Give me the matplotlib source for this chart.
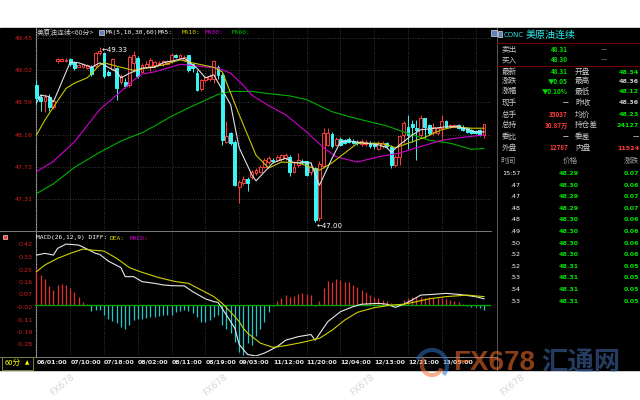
import matplotlib
matplotlib.use('Agg')
import matplotlib.pyplot as plt
from matplotlib.patches import Rectangle, Arc

plt.rcParams['font.family'] = ['DejaVu Sans', 'Noto Sans CJK SC']
CJK = ['Noto Sans CJK SC', 'DejaVu Sans']

# 美原油连续 60分钟K线 (开, 高, 低, 收)
opens = [48.83, 48.66, 48.61, 48.66, 48.53, 49.14, 49.15, 49.15, 49.17, 49.13,
         49.07, 49.06, 49.05, 49.07, 49.08, 49.25, 49.25, 49.00, 49.04, 49.05,
         48.87, 48.87, 48.83, 49.12, 49.19, 49.00, 49.07, 49.08, 49.09, 49.11,
         49.10, 49.11, 49.14, 49.22, 49.19, 49.16, 49.22, 49.10, 48.98, 48.77,
         48.89, 48.90, 48.90, 49.07, 48.96, 48.07, 48.18, 48.07, 47.47, 47.52,
         47.58, 47.60, 47.65, 47.67, 47.74, 47.80, 47.83, 47.83, 47.84, 47.85,
         47.87, 47.67, 47.76, 47.82, 47.81, 47.67, 47.72, 47.05, 47.75, 48.03,
         48.17, 48.03, 48.11, 48.09, 48.10, 48.08, 48.07, 48.04, 48.04, 48.06,
         48.05, 47.98, 48.01, 48.05, 48.00, 47.76, 47.87, 48.16, 48.27, 48.30,
         48.25, 48.16, 48.38, 48.29, 48.20, 48.18, 48.25, 48.35, 48.26, 48.27,
         48.29, 48.27, 48.25, 48.23, 48.21, 48.23, 48.16]
highs = [48.89, 48.70, 48.71, 48.70, 48.63, 49.18, 49.19, 49.18, 49.19, 49.15,
         49.11, 49.12, 49.11, 49.09, 49.26, 49.33, 49.27, 49.02, 49.19, 49.07,
         48.97, 48.92, 49.22, 49.28, 49.21, 49.12, 49.14, 49.18, 49.15, 49.14,
         49.16, 49.16, 49.25, 49.24, 49.24, 49.22, 49.23, 49.12, 49.02, 48.90,
         48.95, 48.97, 49.16, 49.09, 48.98, 48.34, 48.20, 48.09, 47.56, 47.61,
         47.60, 47.69, 47.72, 47.76, 47.85, 47.88, 47.85, 47.89, 47.91, 47.92,
         47.89, 47.81, 47.92, 47.84, 47.82, 47.80, 47.74, 47.82, 48.25, 48.25,
         48.20, 48.13, 48.13, 48.11, 48.13, 48.10, 48.09, 48.10, 48.09, 48.08,
         48.07, 48.08, 48.08, 48.07, 48.03, 47.89, 48.16, 48.34, 48.43, 48.36,
         48.36, 48.43, 48.39, 48.30, 48.32, 48.27, 48.43, 48.36, 48.31, 48.31,
         48.31, 48.29, 48.26, 48.24, 48.22, 48.24, 48.30]
lows = [48.57, 48.48, 48.47, 48.48, 48.50, 49.12, 49.14, 49.13, 49.08, 49.03,
        49.06, 49.05, 49.04, 48.95, 49.06, 49.23, 48.92, 48.94, 49.02, 48.63,
        48.84, 48.78, 48.80, 49.00, 48.92, 48.98, 49.05, 49.01, 49.07, 49.09,
        49.08, 49.10, 49.12, 49.18, 49.17, 49.15, 49.00, 49.00, 48.74, 48.74,
        48.87, 48.88, 48.85, 48.91, 48.03, 48.05, 48.03, 47.48, 47.25, 47.50,
        47.41, 47.58, 47.63, 47.65, 47.72, 47.78, 47.80, 47.81, 47.82, 47.83,
        47.61, 47.65, 47.74, 47.78, 47.61, 47.63, 47.00, 47.02, 47.72, 48.02,
        47.99, 48.01, 48.01, 48.04, 48.05, 48.04, 48.03, 48.02, 48.02, 47.99,
        47.98, 47.96, 47.99, 47.99, 47.72, 47.74, 47.76, 48.05, 47.98, 48.07,
        47.83, 48.12, 48.12, 48.16, 48.16, 48.16, 48.09, 48.25, 48.25, 48.26,
        48.24, 48.21, 48.19, 48.17, 48.17, 48.15, 48.12]
closes = [48.65, 48.61, 48.67, 48.53, 48.61, 49.17, 49.17, 49.16, 49.11, 49.05,
          49.09, 49.10, 49.09, 48.97, 49.25, 49.28, 48.94, 48.96, 49.17, 48.78,
          48.95, 48.81, 49.20, 49.22, 48.94, 49.09, 49.10, 49.16, 49.13, 49.12,
          49.14, 49.14, 49.22, 49.20, 49.22, 49.20, 49.02, 49.05, 48.76, 48.89,
          48.93, 48.95, 49.15, 48.96, 48.09, 48.14, 48.05, 47.50, 47.54, 47.58,
          47.52, 47.67, 47.70, 47.74, 47.83, 47.86, 47.82, 47.87, 47.89, 47.90,
          47.67, 47.74, 47.83, 47.80, 47.63, 47.74, 47.03, 47.78, 48.18, 48.18,
          48.01, 48.11, 48.03, 48.06, 48.07, 48.06, 48.05, 48.08, 48.07, 48.01,
          48.01, 48.06, 48.06, 48.01, 47.76, 47.87, 48.14, 48.32, 48.16, 48.27,
          48.23, 48.38, 48.27, 48.18, 48.27, 48.25, 48.35, 48.27, 48.29, 48.29,
          48.25, 48.23, 48.20, 48.18, 48.18, 48.16, 48.30]

# 均线读数 (K线序号, 价格)
ma5_x = [0, 1, 3, 4, 8, 10, 13, 15, 19, 20, 22, 25, 28, 30, 35, 38, 40, 42, 46, 48,
         51, 52, 55, 56, 59, 61, 65, 67, 70, 72, 74, 78, 81, 83, 84, 86, 89, 91, 93,
         97, 100, 104, 106]
ma5_y = [48.59, 48.69, 48.67, 48.60, 49.13, 49.12, 49.06, 49.12, 49.00, 48.92, 48.98,
         49.05, 49.06, 49.12, 49.18, 49.05, 48.92, 48.96, 48.56, 47.99, 47.63, 47.55,
         47.73, 47.79, 47.85, 47.79, 47.79, 47.49, 47.85, 48.07, 48.08, 48.05, 48.03,
         47.99, 47.93, 48.03, 48.16, 48.23, 48.24, 48.27, 48.27, 48.20, 48.20]
ma10_x = [0, 2, 4, 7, 9, 12, 15, 16, 20, 23, 26, 30, 34, 36, 42, 44, 48, 52, 55, 58,
          62, 67, 70, 73, 76, 81, 83, 85, 89, 92, 96, 99, 103, 106]
ma10_y = [48.16, 48.36, 48.53, 48.78, 48.85, 48.92, 49.09, 49.12, 49.06, 49.02, 49.05,
          49.09, 49.16, 49.13, 49.06, 49.00, 48.43, 47.89, 47.72, 47.80, 47.79, 47.69,
          47.79, 47.92, 48.05, 48.05, 48.03, 47.99, 48.07, 48.13, 48.23, 48.27, 48.25,
          48.25]
ma30_x = [0, 4, 9, 15, 19, 23, 25, 28, 34, 43, 46, 49, 51, 55, 59, 64, 68, 71, 76, 81,
          86, 90, 96, 101, 106]
ma30_y = [47.67, 47.81, 48.07, 48.50, 48.69, 48.89, 48.97, 49.00, 49.10, 49.05, 48.98,
          48.82, 48.69, 48.55, 48.43, 48.20, 47.99, 47.87, 47.80, 47.87, 47.92, 47.99,
          48.09, 48.13, 48.16]
ma60_x = [0, 4, 9, 15, 20, 25, 28, 32, 36, 43, 46, 51, 55, 60, 64, 70, 75, 83, 87, 93,
          98, 103, 106]
ma60_y = [47.38, 47.51, 47.73, 47.93, 48.08, 48.19, 48.28, 48.41, 48.52, 48.70, 48.74,
          48.74, 48.71, 48.68, 48.63, 48.47, 48.39, 48.28, 48.20, 48.09, 48.05, 47.97,
          47.98]

# MACD(26,12,9)
macd_hist = [0.255, 0.21, 0.178, 0.13, 0.10, 0.137, 0.146, 0.14, 0.113, 0.085,
             0.055, 0.02, 0.004, -0.045, -0.04, -0.04, -0.07, -0.10, -0.115, -0.13,
             -0.155, -0.17, -0.14, -0.11, -0.10, -0.10, -0.095, -0.09, -0.085, -0.08,
             -0.075, -0.07, -0.07, -0.055, -0.045, -0.04, -0.045, -0.06, -0.085, -0.12,
             -0.125, -0.11, -0.085, -0.074, -0.14, -0.17, -0.20, -0.26, -0.33, -0.35,
             -0.27, -0.28, -0.22, -0.17, -0.12, -0.055, -0.008, 0.024, 0.043, 0.066,
             0.055, 0.06, 0.071, 0.078, 0.071, 0.066, -0.01, 0.024, 0.113, 0.165,
             0.16, 0.178, 0.173, 0.16, 0.155, 0.14, 0.125, 0.10, 0.09, 0.066,
             0.055, 0.043, 0.032, 0.024, 0.008, -0.004, 0.004, 0.032, 0.048, 0.055,
             0.055, 0.055, 0.048, 0.055, 0.048, 0.043, 0.043, 0.038, 0.032, 0.024,
             0.015, 0.002, -0.008, -0.015, -0.02, -0.027, -0.04]
diff_x = [0, 2, 4, 5, 7, 10, 12, 14, 15, 17, 20, 21, 23, 25, 28, 30, 32, 35, 37, 40,
          42, 43, 45, 47, 48, 50, 52, 54, 57, 59, 62, 65, 66, 69, 72, 75, 77, 81, 83,
          85, 87, 89, 91, 94, 97, 100, 104, 106]
diff_y = [0.346, 0.358, 0.346, 0.393, 0.423, 0.416, 0.388, 0.358, 0.35, 0.304, 0.258,
          0.195, 0.195, 0.16, 0.148, 0.137, 0.132, 0.13, 0.09, 0.04, 0.02, 0.015,
          -0.074, -0.167, -0.28, -0.35, -0.36, -0.34, -0.295, -0.25, -0.225, -0.21,
          -0.25, -0.12, -0.05, -0.015, 0.002, 0.008, 0.002, -0.02, 0.002, 0.032, 0.066,
          0.071, 0.078, 0.071, 0.055, 0.04]
dea_x = [0, 2, 5, 8, 11, 13, 16, 19, 22, 25, 29, 33, 36, 39, 42, 44, 47, 48, 49, 50,
         53, 56, 59, 63, 67, 70, 73, 76, 80, 84, 87, 90, 93, 97, 102, 106]
dea_y = [0.23, 0.277, 0.323, 0.358, 0.388, 0.381, 0.374, 0.323, 0.258, 0.225, 0.188,
         0.16, 0.148, 0.102, 0.055, 0.008, -0.085, -0.12, -0.167, -0.20, -0.27, -0.30,
         -0.288, -0.265, -0.237, -0.18, -0.109, -0.055, -0.022, -0.004, 0.002, 0.02,
         0.04, 0.055, 0.066, 0.055]

date_labels = ['06/01:00', '07/10:00', '07/18:00', '08/02:00', '08/11:00', '08/19:00',
               '09/03:00', '11/12:00', '11/20:00', '12/04:00', '12/13:00', '12/21:00',
               '13/05:00', '']
price_ticks = [49.45, 49.022, 48.594, 48.166, 47.738, 47.31]
price_labels = ['49.45', '49.02', '48.59', '48.16', '47.73', '47.31']
macd_ticks = [0.42, 0.3325, 0.245, 0.1575, 0.07, -0.0175, -0.105, -0.1925, -0.28]
macd_labels = ['0.42', '0.33', '0.25', '0.16', '0.07', '-0.02', '-0.11', '-0.19', '-0.28']

# 右侧报价
quote_left = ['卖出', '买入', '最新', '涨跌', '涨幅', '现手', '总手', '总持', '委比', '外盘']
quote_left_val = ['48.31', '48.30', '48.31', '▼0.05', '▼0.10%', '—', '35037', '30.87万', '—', '12787']
quote_right = ['', '', '开盘', '最高', '最低', '昨收', '均价', '持仓差', '委差', '内盘']
quote_right_val = ['—', '—', '48.34', '48.36', '48.12', '48.36', '48.23', '24127', '—', '11524']
tick_time = ['15:57', '.47', '.47', '.48', '.48', '.49', '.50', '.52', '.52', '.53', '.54', '.53']
tick_price = ['48.29', '48.30', '48.29', '48.29', '48.30', '48.30', '48.30', '48.30',
              '48.31', '48.31', '48.31', '48.31']
tick_chg = ['0.07', '0.06', '0.07', '0.07', '0.06', '0.06', '0.06', '0.06',
            '0.05', '0.05', '0.05', '0.05']

RED = '#ff3c3c'
CYAN = '#3cf4f4'
GREEN = '#00e000'
GRAY = '#c8c8c8'
GRID = '#4a4a4a'


def box(x0, y0, x1, y1):
    return [x0 / 640, 1 - y1 / 400, (x1 - x0) / 640, (y1 - y0) / 400]


fig = plt.figure(figsize=(6.4, 4.0), dpi=100, facecolor='white')

# 背景层 (像素坐标)
bg = fig.add_axes([0, 0, 1, 1])
bg.set_xlim(0, 640)
bg.set_ylim(400, 0)
bg.axis('off')
bg.set_zorder(0)
bg.add_patch(Rectangle((0, 28), 640, 342, color='black'))
bg.plot([35.5, 35.5], [28, 357], color='#9a9a9a', lw=0.8)
bg.plot([0, 491], [231, 231], color='#7a7a7a', lw=0.7)
bg.plot([0, 497], [356.5, 356.5], color='#7a7a7a', lw=0.7)
bg.plot([497, 497], [28, 370], color='#5a5a5a', lw=0.7)

n = len(closes)
bars = list(range(n))
xlim = (-0.355, 107.65)

# 主图
ax = fig.add_axes(box(35, 28, 491, 231))
ax.set_zorder(1)
ax.set_facecolor('none')
ax.set_xlim(*xlim)
ax.set_ylim(46.883, 49.583)
for s in ax.spines.values():
    s.set_visible(False)
ax.set_yticks(price_ticks, price_labels)
ax.set_xticks(range(0, n, 8))
ax.tick_params(axis='y', length=0, pad=1.5, labelsize=4.6, labelcolor='#d42020')
ax.tick_params(axis='x', length=0, labelbottom=False)
ax.grid(color=GRID, ls=(0, (1, 2)), lw=0.6)

up = [c >= o for o, c in zip(opens, closes)]
edge = [RED if u else CYAN for u in up]
face = ['black' if u else CYAN for u in up]
ax.vlines(bars, lows, highs, colors=edge, lw=0.7, zorder=3)
bottoms = [min(o, c) for o, c in zip(opens, closes)]
heights = [max(abs(c - o), 0.008) for o, c in zip(opens, closes)]
ax.bar(bars, heights, bottom=bottoms, width=0.68, color=face, edgecolor=edge,
       linewidth=0.7, zorder=4)

ax.plot(ma60_x, ma60_y, color='#00b000', lw=0.8, zorder=5)
ax.plot(ma30_x, ma30_y, color='#d000d0', lw=0.8, zorder=5)
ax.plot(ma10_x, ma10_y, color='#c8c800', lw=0.8, zorder=5)
ax.plot(ma5_x, ma5_y, color='#e0e0e0', lw=0.8, zorder=5)

hi = max(highs)
lo = min(lows)
ax.annotate(f'←{hi:.2f}', (highs.index(hi), hi), xytext=(1, -2), textcoords='offset points',
            color='white', fontsize=5, va='center', ha='left', zorder=6)
ax.annotate(f'←{lo:.2f}', (lows.index(lo), lo), xytext=(1, -3), textcoords='offset points',
            color='white', fontsize=5, va='center', ha='left', zorder=6)

# MACD副图
ax2 = fig.add_axes(box(35, 231, 491, 356))
ax2.set_zorder(1)
ax2.set_facecolor('none')
ax2.set_xlim(*xlim)
ax2.set_ylim(-0.3605, 0.5145)
for s in ax2.spines.values():
    s.set_visible(False)
ax2.set_yticks(macd_ticks, macd_labels)
ax2.set_xticks(range(0, n, 8), date_labels)
ax2.tick_params(axis='y', length=0, pad=1.5, labelsize=4.6, labelcolor='#d42020')
ax2.tick_params(axis='x', length=0, pad=2.5, labelsize=4.5, labelcolor='#e8e8e8')
for lbl in ax2.get_xticklabels():
    lbl.set_ha('left')
    lbl.set_fontweight('bold')
ax2.grid(axis='x', color=GRID, ls=(0, (1, 2)), lw=0.6)
hcol = ['#e03030' if v >= 0 else '#20c8c8' for v in macd_hist]
ax2.vlines(bars, 0, macd_hist, colors=hcol, lw=0.9, zorder=3)
ax2.axhline(0, color='#00a000', lw=1.0, zorder=4)
ax2.plot(diff_x, diff_y, color='#e8e8e8', lw=0.8, zorder=5)
ax2.plot(dea_x, dea_y, color='#d0d000', lw=0.8, zorder=5)

# 文字层
top = fig.add_axes([0, 0, 1, 1])
top.set_xlim(0, 640)
top.set_ylim(400, 0)
top.axis('off')
top.set_zorder(3)

mono = 'DejaVu Sans Mono'
top.text(37, 32.5, '美原油连续<60分>', color=GRAY, fontsize=5, family=CJK, va='center')
top.add_patch(Rectangle((99, 29.5), 5, 5, facecolor='#6080c0', edgecolor='white', lw=0.4))
top.text(106, 32.5, 'MA(5,10,30,60)', color='white', fontsize=4.5, family=mono, va='center')
top.text(158, 32.5, 'MA5:', color='white', fontsize=4.5, family=mono, va='center')
top.text(182, 32.5, 'MA10:', color='#d8d800', fontsize=4.5, family=mono, va='center')
top.text(205, 32.5, 'MA30:', color='#e000e0', fontsize=4.5, family=mono, va='center')
top.text(232, 32.5, 'MA60:', color='#00c000', fontsize=4.5, family=mono, va='center')
top.add_patch(Rectangle((491, 30), 6, 6, facecolor='#6080c0', edgecolor='white', lw=0.4))

top.add_patch(Rectangle((3, 235), 4, 4, facecolor=RED, edgecolor='white', lw=0.4))
top.text(36, 238, 'MACD(26,12,9) DIFF:', color='white', fontsize=4.5, family=mono, va='center')
top.text(110, 238, 'DEA:', color='#d8d800', fontsize=4.5, family=mono, va='center')
top.text(130, 238, 'MACD:', color='#e000e0', fontsize=4.5, family=mono, va='center')

top.add_patch(Rectangle((1.5, 356.5), 31, 13, facecolor='black', edgecolor='#808040', lw=0.7))
top.text(5, 363, '60分', color='#ffff00', fontsize=5.5, family=CJK, va='center')
top.text(25, 363, '▲', color='#ffff00', fontsize=4, va='center')

# 右侧面板
top.add_patch(Rectangle((497.5, 31), 4, 6, facecolor='#6080c0', edgecolor='white', lw=0.4))
top.text(504, 35, 'CONC', color='#30d8d8', fontsize=5, va='center')
top.text(526, 35, '美原油连续', color='#30e8e8', fontsize=7.2, family=CJK, va='center')
for yy in (42.5, 65.5):
    top.plot([497, 640], [yy, yy], color='#6a0000', lw=0.8)
row_y = [50, 60, 72, 81.5, 91.5, 103, 114.5, 125.5, 137, 148]
lval_col = [GREEN, GREEN, GREEN, GREEN, GREEN, GRAY, RED, RED, GRAY, RED]
rval_col = [GRAY, GRAY, GREEN, GRAY, GREEN, GRAY, GREEN, GREEN, GRAY, RED]
for k, y in enumerate(row_y):
    top.text(502, y, quote_left[k], color=GRAY, fontsize=5.5, family=CJK, va='center')
    top.text(568, y, quote_left_val[k], color=lval_col[k], fontsize=4.6, family=CJK,
             va='center', ha='right', weight='bold')
    if quote_right[k]:
        top.text(575, y, quote_right[k], color=GRAY, fontsize=5.5, family=CJK, va='center')
        top.text(639, y, quote_right_val[k], color=rval_col[k], fontsize=4.6, va='center',
                 ha='right', weight='bold')
    else:
        top.text(604, y, quote_right_val[k], color=GRAY, fontsize=4.6, va='center', ha='center')

top.text(500, 161, '时间', color='#9a9a9a', fontsize=5.5, family=CJK, va='center')
top.text(570, 161, '价格', color='#9a9a9a', fontsize=5.5, family=CJK, va='center', ha='center')
top.text(639, 161, '涨跌', color='#9a9a9a', fontsize=5.5, family=CJK, va='center', ha='right')
for k in range(len(tick_time)):
    y = 173.5 + 11.6 * k
    top.text(520, y, tick_time[k], color='white', fontsize=4.6, va='center', ha='right')
    top.text(569, y, tick_price[k], color=GREEN, fontsize=4.6, va='center', ha='center',
             weight='bold')
    top.text(639, y, tick_chg[k], color=GREEN, fontsize=4.6, va='center', ha='right',
             weight='bold')

# 水印
for wx in (62, 215, 362, 512):
    top.text(wx, 385, 'FX678', color='#d6d6d6', fontsize=6.5, rotation=40,
             ha='center', va='center')
top.add_patch(Arc((432, 365), 30, 30, theta1=200, theta2=40, color='#3070c0', lw=3, alpha=0.55))
top.add_patch(Arc((432, 365), 20, 20, theta1=20, theta2=220, color='#f07030', lw=3, alpha=0.55))
top.text(453, 363, 'FX678', color='#ff7030', alpha=0.55, fontsize=20,
         family='Liberation Sans', weight='bold', va='center')
top.text(541, 363, '汇通网', color='#4a78c0', alpha=0.5, fontsize=19,
         family=CJK, weight='bold', va='center')

fig.savefig('out.png', dpi=100, facecolor='white')
